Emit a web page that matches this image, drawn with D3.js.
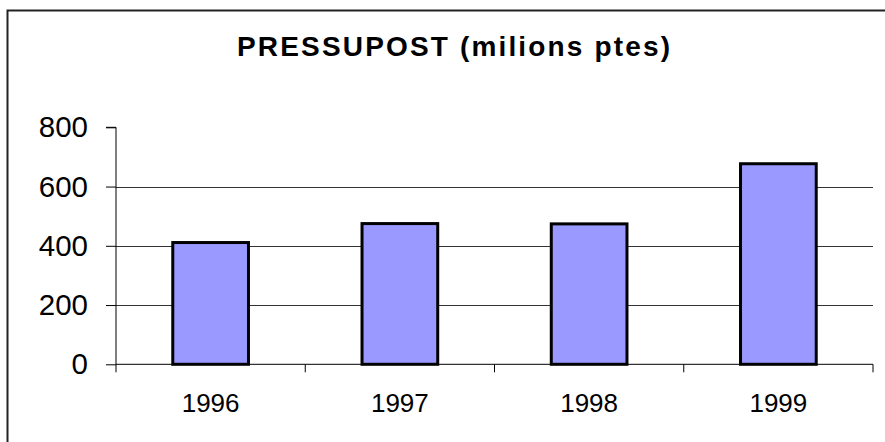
<!DOCTYPE html>
<html>
<head>
<meta charset="utf-8">
<script src="https://cdn.jsdelivr.net/npm/d3@7"></script>
<style>
  body { margin: 0; background: #fff; }
  svg { display: block; font-family: "Liberation Sans", Arial, sans-serif; }
</style>
</head>
<body>
<svg id="chart" width="885" height="442"></svg>
<script>
// chart data
var years = ['1996', '1997', '1998', '1999'];
var values = [411, 475, 474, 677];
var yTicks = [0, 200, 400, 600, 800];
var title = 'PRESSUPOST (milions ptes)';

var svg = d3.select('#chart');

// outer frame (right and bottom edges fall outside the picture)
svg.append('rect')
  .attr('x', 7.5).attr('y', 10.5)
  .attr('width', 900).attr('height', 460)
  .attr('fill', 'none')
  .attr('stroke', '#222')
  .attr('stroke-width', 2);

svg.append('text')
  .attr('x', 453.5).attr('y', 56)
  .attr('text-anchor', 'middle')
  .attr('font-size', 28)
  .attr('font-weight', 'bold')
  .attr('textLength', 433)
  .attr('lengthAdjust', 'spacing')
  .text(title);

var plotLeft = 116, plotRight = 873, plotTop = 127.3, plotBottom = 364.3;

var x = d3.scaleBand()
  .domain(years)
  .range([plotLeft, plotRight])
  .paddingInner(0.6)
  .paddingOuter(0.3);

var y = d3.scaleLinear()
  .domain([0, 800])
  .range([plotBottom, plotTop]);

// gridlines (none on the top value)
svg.append('g')
  .selectAll('line')
  .data(yTicks.filter(d => d > 0 && d < 800))
  .enter().append('line')
  .attr('x1', plotLeft).attr('x2', plotRight)
  .attr('y1', d => Math.round(y(d)) + 0.5)
  .attr('y2', d => Math.round(y(d)) + 0.5)
  .attr('stroke', '#333')
  .attr('stroke-width', 1);

// bars
svg.append('g')
  .selectAll('rect')
  .data(values)
  .enter().append('rect')
  .attr('x', (d, i) => x(years[i]))
  .attr('width', x.bandwidth())
  .attr('y', d => y(d))
  .attr('height', d => y(0) - y(d))
  .attr('fill', '#9999ff')
  .attr('stroke', '#000')
  .attr('stroke-width', 3);

// y axis
var yAxis = d3.axisLeft(y)
  .tickValues(yTicks)
  .tickSize(10)
  .tickPadding(18)
  .tickFormat(d3.format('d'));

var gy = svg.append('g')
  .attr('transform', `translate(${plotLeft},0)`)
  .call(yAxis);
gy.select('.domain').attr('stroke', '#000').attr('d', `M-10,${plotTop}H0V${plotBottom}`);
gy.selectAll('.tick line').attr('stroke', '#000');
gy.selectAll('.tick text')
  .attr('font-size', 29.5)
  .attr('font-family', '"Liberation Sans", Arial, sans-serif')
  .attr('fill', '#000');

// x axis with ticks between categories
var gx = svg.append('g')
  .attr('transform', `translate(0,${plotBottom})`);
gx.append('line')
  .attr('x1', plotLeft).attr('x2', plotRight)
  .attr('y1', 0).attr('y2', 0)
  .attr('stroke', '#000');
gx.selectAll('line.tk')
  .data(d3.range(years.length + 1))
  .enter().append('line')
  .attr('class', 'tk')
  .attr('x1', i => plotLeft + i * x.step())
  .attr('x2', i => plotLeft + i * x.step())
  .attr('y1', 0).attr('y2', 8)
  .attr('stroke', '#000');
gx.selectAll('text')
  .data(years)
  .enter().append('text')
  .attr('x', d => x(d) + x.bandwidth() / 2)
  .attr('y', 47.5)
  .attr('text-anchor', 'middle')
  .attr('font-size', 26)
  .text(d => d);
</script>
</body>
</html>
